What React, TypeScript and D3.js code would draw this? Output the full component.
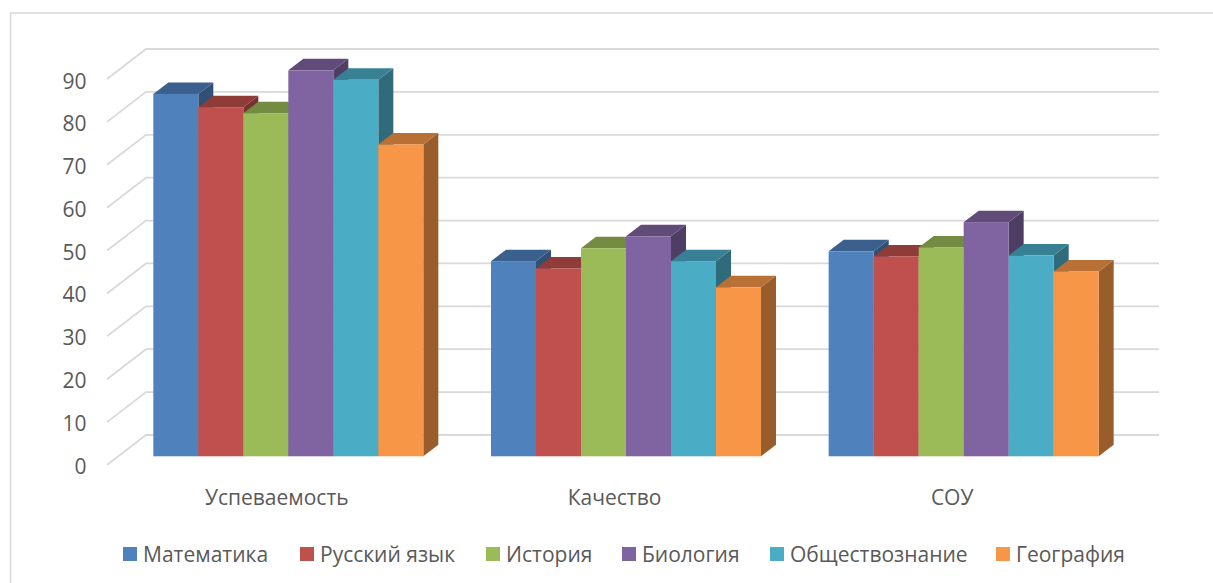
import React from "react";
import * as d3 from "d3";

const categories = ["Успеваемость", "Качество", "СОУ"];
const seriesNames = ["Математика", "Русский язык", "История", "Биология", "Обществознание", "География"];
const colors = ["#4f81bd", "#c0504d", "#9bbb59", "#8064a2", "#4bacc6", "#f79646"];
const matematika = [84.5, 45.5, 47.8];
const russkiy = [81.4, 43.8, 46.6];
const istoriya = [80, 48.5, 48.7];
const biologiya = [90, 51.3, 54.6];
const obshchestvo = [87.8, 45.5, 46.8];
const geografiya = [72.7, 39.4, 43.1];
const seriesValues = [matematika, russkiy, istoriya, biologiya, obshchestvo, geografiya];
const ticks = [0, 10, 20, 30, 40, 50, 60, 70, 80, 90];
const legendX = [123, 300, 486, 622, 770, 996];

const FONT = "'Open Sans', sans-serif";
const TXT = "#595959";
const GRID = "#d9d9d9";

export default function App() {
  const yBack = d3.scaleLinear().domain([0, 90]).range([435, 49]);
  const yFront = d3.scaleLinear().domain([0, 90]).range([456.3, 70.3]);
  const yLabel = d3.scaleLinear().domain([0, 90]).range([465.5, 80.5]);
  const xGroup = d3.scaleBand().domain(categories).range([119.5, 1132.5]);
  const barW = 45;
  const xBar = d3.scaleBand<number>().domain(d3.range(6)).range([0, barW * 6]);
  const groupPad = (xGroup.bandwidth() - barW * 6) / 2;
  const dx = 15;
  const dy = 11.5;

  return (
    <svg
      width={1213}
      height={583}
      style={{ position: "absolute", left: 0, top: 0, fontFamily: FONT }}
    >
      <rect width={1213} height={583} fill="#fff" />
      <path d="M10.5 583V13H1213" fill="none" stroke={GRID} strokeWidth={1.6} />
      {ticks.map((t) => (
        <g key={t}>
          <path
            d={`M107 ${yBack(t) + 30}L146 ${yBack(t)}H1159`}
            fill="none"
            stroke={GRID}
            strokeWidth={1.8}
          />
          <text x={86.5} y={yLabel(t)} textAnchor="end" dominantBaseline="central" fontSize={21} fill={TXT}>
            {t}
          </text>
        </g>
      ))}
      {categories.map((c, ci) =>
        seriesValues.map((vals, si) => {
          const x = (xGroup(c) as number) + groupPad + (xBar(si) as number);
          const y = yFront(vals[ci]);
          const base = yFront(0);
          const col = d3.color(colors[si])!;
          return (
            <g key={c + si}>
              <path
                d={`M${x + barW} ${y}l${dx} ${-dy}V${base - dy}L${x + barW} ${base}Z`}
                fill={d3.rgb(col).darker(1.34).formatHex()}
              />
              <path
                d={`M${x} ${y}l${dx} ${-dy}h${barW}l${-dx} ${dy}Z`}
                fill={d3.rgb(col).darker(0.82).formatHex()}
              />
              <rect x={x} y={y} width={barW} height={base - y} fill={colors[si]} />
            </g>
          );
        })
      )}
      {categories.map((c) => (
        <text
          key={c}
          x={(xGroup(c) as number) + xGroup.bandwidth() / 2 - 11.5}
          y={496.5}
          textAnchor="middle"
          dominantBaseline="central"
          fontSize={21}
          fill={TXT}
        >
          {c}
        </text>
      ))}
      {seriesNames.map((s, i) => (
        <g key={s}>
          <rect x={legendX[i]} y={547} width={14} height={14} fill={colors[i]} />
          <text x={legendX[i] + 20} y={553.5} dominantBaseline="central" fontSize={21} fill={TXT}>
            {s}
          </text>
        </g>
      ))}
    </svg>
  );
}
